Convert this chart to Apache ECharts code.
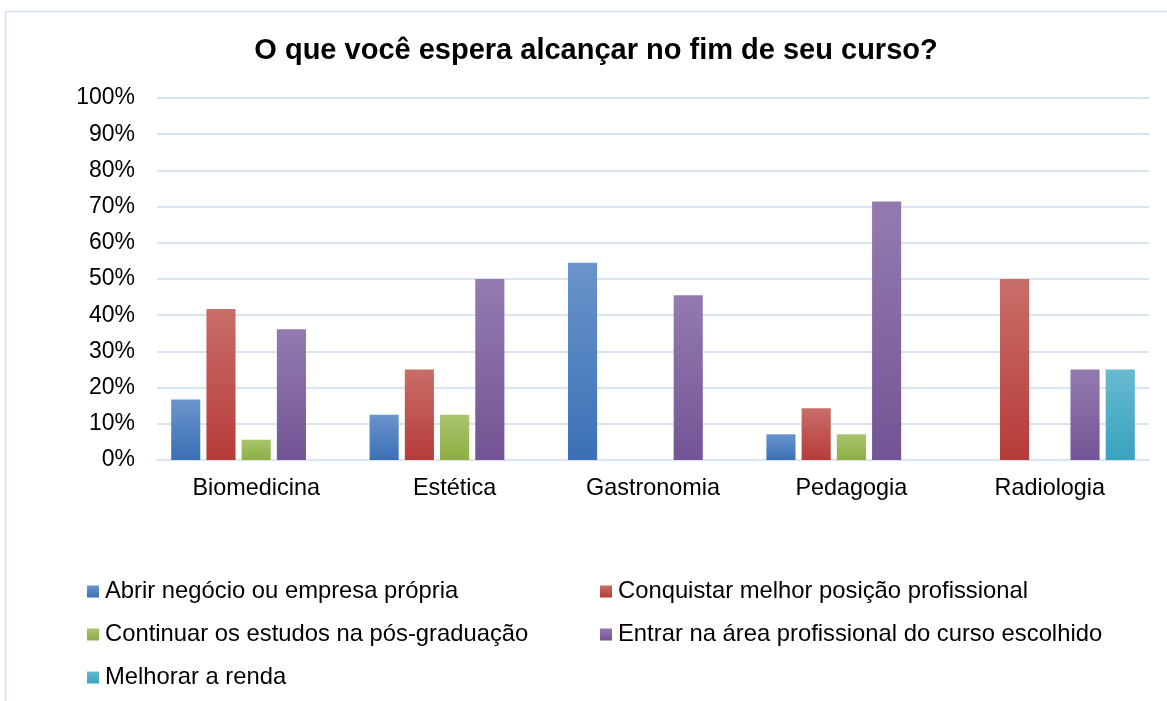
<!DOCTYPE html>
<html>
<head>
<meta charset="utf-8">
<script src="https://cdn.jsdelivr.net/npm/echarts@6/dist/echarts.min.js"></script>
<style>
html,body{margin:0;padding:0;background:#fff;}
#c{width:1167px;height:701px;}
</style>
</head>
<body>
<div id="c"></div>
<script>
const categories = ['Biomedicina', 'Estética', 'Gastronomia', 'Pedagogia', 'Radiologia'];
const seriesNames = [
  'Abrir negócio ou empresa própria',
  'Conquistar melhor posição profissional',
  'Continuar os estudos na pós-graduação',
  'Entrar na área profissional do curso escolhido',
  'Melhorar a renda'
];
const abrirNegocio = [16.7, 12.5, 54.5, 7.1, 0];
const conquistarPosicao = [41.7, 25.0, 0, 14.3, 50.0];
const continuarEstudos = [5.6, 12.5, 0, 7.1, 0];
const entrarArea = [36.1, 50.0, 45.5, 71.4, 25.0];
const melhorarRenda = [0, 0, 0, 0, 25.0];
const yTicks = [0, 10, 20, 30, 40, 50, 60, 70, 80, 90, 100];

const values = [abrirNegocio, conquistarPosicao, continuarEstudos, entrarArea, melhorarRenda];
const gradients = [
  ['#6A94CB', '#3B70B6'],
  ['#C96E69', '#B63B38'],
  ['#A9C46F', '#8CAF42'],
  ['#937BB0', '#735495'],
  ['#68BAD0', '#38A3BF']
];
const FONT = '"Liberation Sans", Arial, sans-serif';

function grad(c) {
  return new echarts.graphic.LinearGradient(0, 0, 0, 1, [
    {offset: 0, color: c[0]}, {offset: 1, color: c[1]}
  ]);
}

const series = seriesNames.map((name, i) => ({
  name: name,
  type: 'bar',
  data: values[i],
  barGap: '21%',
  barCategoryGap: '14.3%',
  itemStyle: {color: grad(gradients[i])},
  emphasis: {disabled: true}
}));

const legendPos = [
  {left: 87, top: 578},
  {left: 600, top: 578},
  {left: 87, top: 621},
  {left: 600, top: 621},
  {left: 87, top: 664}
];
const legends = seriesNames.map((name, i) => ({
  data: [name],
  left: legendPos[i].left,
  top: legendPos[i].top,
  padding: 0,
  itemWidth: 12,
  itemHeight: 12,
  icon: 'rect',
  selectedMode: false,
  textStyle: {fontSize: 23.8, color: '#000', fontFamily: FONT, lineHeight: 27, padding: [0,0,0,1]}
}));

const chart = echarts.init(document.getElementById('c'), null, {renderer: 'canvas'});
chart.setOption({
  animation: false,
  backgroundColor: '#fff',
  title: {
    text: 'O que você espera alcançar no fim de seu curso?',
    left: 591,
    textAlign: 'center',
    top: 31,
    textStyle: {fontSize: 29, fontWeight: 'bold', color: '#000', fontFamily: FONT}
  },
  graphic: [{
    type: 'rect',
    shape: {x: 5.5, y: 11.5, width: 1300, height: 900},
    style: {fill: 'none', stroke: '#D3DFEF', lineWidth: 1.5},
    silent: true
  }],
  legend: legends,
  grid: {left: 157, right: 18, top: 98, bottom: 241, containLabel: false},
  xAxis: {
    type: 'category',
    data: categories,
    axisLine: {lineStyle: {color: '#D9E4F2', width: 2}},
    axisTick: {show: false},
    axisLabel: {fontSize: 23.4, color: '#000', fontFamily: FONT, margin: 17}
  },
  yAxis: {
    type: 'value',
    min: yTicks[0],
    max: yTicks[yTicks.length - 1],
    interval: 10,
    axisLine: {show: false},
    axisTick: {show: false},
    axisLabel: {fontSize: 23, color: '#000', fontFamily: FONT, margin: 22, formatter: '{value}%'},
    splitLine: {lineStyle: {color: '#D9E4F2', width: 2}}
  },
  series: series
});
</script>
</body>
</html>
